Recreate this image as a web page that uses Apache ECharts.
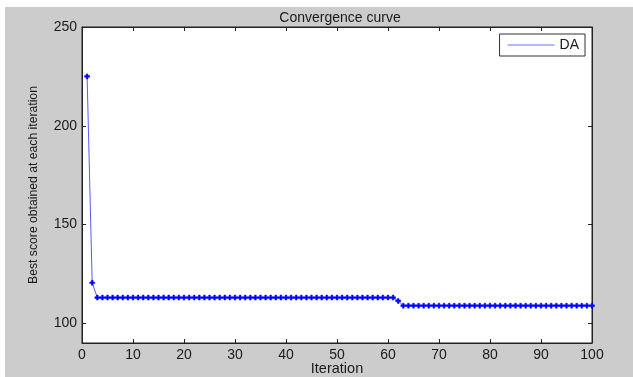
<!DOCTYPE html>
<html>
<head>
<meta charset="utf-8">
<script src="https://cdn.jsdelivr.net/npm/echarts@6/dist/echarts.min.js"></script>
<style>
html,body{margin:0;padding:0;background:#fff;}
#c{width:633px;height:377px;}
</style>
</head>
<body>
<div id="c"></div>
<script>
var iterations = [
 1,2,3,4,5,6,7,8,9,10,
 11,12,13,14,15,16,17,18,19,20,
 21,22,23,24,25,26,27,28,29,30,
 31,32,33,34,35,36,37,38,39,40,
 41,42,43,44,45,46,47,48,49,50,
 51,52,53,54,55,56,57,58,59,60,
 61,62,63,64,65,66,67,68,69,70,
 71,72,73,74,75,76,77,78,79,80,
 81,82,83,84,85,86,87,88,89,90,
 91,92,93,94,95,96,97,98,99,100
];
var bestScore = [
 225,120.5,113,113,113,113,113,113,113,113,
 113,113,113,113,113,113,113,113,113,113,
 113,113,113,113,113,113,113,113,113,113,
 113,113,113,113,113,113,113,113,113,113,
 113,113,113,113,113,113,113,113,113,113,
 113,113,113,113,113,113,113,113,113,113,
 113,111.3,108.9,108.9,108.9,108.9,108.9,108.9,108.9,108.9,
 108.9,108.9,108.9,108.9,108.9,108.9,108.9,108.9,108.9,108.9,
 108.9,108.9,108.9,108.9,108.9,108.9,108.9,108.9,108.9,108.9,
 108.9,108.9,108.9,108.9,108.9,108.9,108.9,108.9,108.9,108.9
];
var yTicks = [100, 150, 200, 250];
var seriesName = 'DA';
var titleText = 'Convergence curve';
var xName = 'Iteration';
var yName = 'Best score obtained at each iteration';

var pairs = iterations.map(function(x, i){ return [x, bestScore[i]]; });
var font = 'Liberation Sans, Arial, sans-serif';
var tc = '#1a1a1a';

function axisCommon(show){
  return {
    axisLine:{show:true,onZero:false,lineStyle:{color:'#222',width:1}},
    axisTick:{show:true,inside:true,length:4,lineStyle:{color:'#222'}},
    splitLine:{show:false},
    axisLabel:{show:show,color:tc,fontFamily:font,fontSize:14,margin:5}
  };
}
function yAxisCommon(show){
  var a = axisCommon(show);
  a.axisTick.customValues = yTicks;
  a.axisLabel.customValues = yTicks;
  return a;
}

var chart = echarts.init(document.getElementById('c'));
chart.setOption({
  animation:false,
  backgroundColor:'#ffffff',
  graphic:[{
    type:'rect', z:-10, silent:true,
    shape:{x:5,y:7,width:628,height:370},
    style:{fill:'#cccccc'}
  }],
  title:{
    text:titleText, left:335, top:6, textAlign:'center',
    textStyle:{fontFamily:font,fontSize:14,fontWeight:'normal',color:tc}
  },
  legend:{
    data:[{name:seriesName, icon:'path://M0,0H47V1H0Z'}],
    right:48, top:34,
    itemWidth:47, itemHeight:1, itemGap:6,
    padding:[4,6,4,8],
    itemStyle:{color:'#7070ff',borderWidth:0,borderColor:'transparent'},
    lineStyle:{width:1,color:'#7070ff'},
    backgroundColor:'#ffffff', borderColor:'#333', borderWidth:1, borderRadius:0,
    textStyle:{fontFamily:font,fontSize:14,color:tc}
  },
  grid:{left:82,right:41,top:27,bottom:34,outerBoundsMode:'none',containLabel:false,
    show:true,backgroundColor:'#ffffff',borderColor:'#222',borderWidth:1},
  xAxis:[
    Object.assign({type:'value',min:0,max:100,interval:10,position:'bottom',
      name:xName,nameLocation:'middle',nameGap:18,nameMoveOverlap:false,
      nameTextStyle:{fontFamily:font,fontSize:14.5,color:tc,verticalAlign:'top'}}, axisCommon(true)),
    Object.assign({type:'value',min:0,max:100,interval:10,position:'top'}, axisCommon(false))
  ],
  yAxis:[
    Object.assign({type:'value',min:90,max:250,position:'left',
      name:yName,nameLocation:'middle',nameGap:42,nameMoveOverlap:false,
      nameTextStyle:{fontFamily:font,fontSize:12.2,color:tc}}, yAxisCommon(true)),
    Object.assign({type:'value',min:90,max:250,position:'right'}, yAxisCommon(false))
  ],
  series:[{
    name:seriesName, type:'line', data:pairs,
    xAxisIndex:0, yAxisIndex:0,
    color:'#5a5aff',
    lineStyle:{color:'#5a5aff',width:1},
    symbol:'path://M-1,-3H1V-1H3V1H1V3H-1V1H-3V-1H-1Z',
    symbolSize:5,
    showSymbol:true,
    itemStyle:{color:'#0000ff',borderColor:'#0000ff',borderWidth:0.5}
  }]
});
</script>
</body>
</html>
